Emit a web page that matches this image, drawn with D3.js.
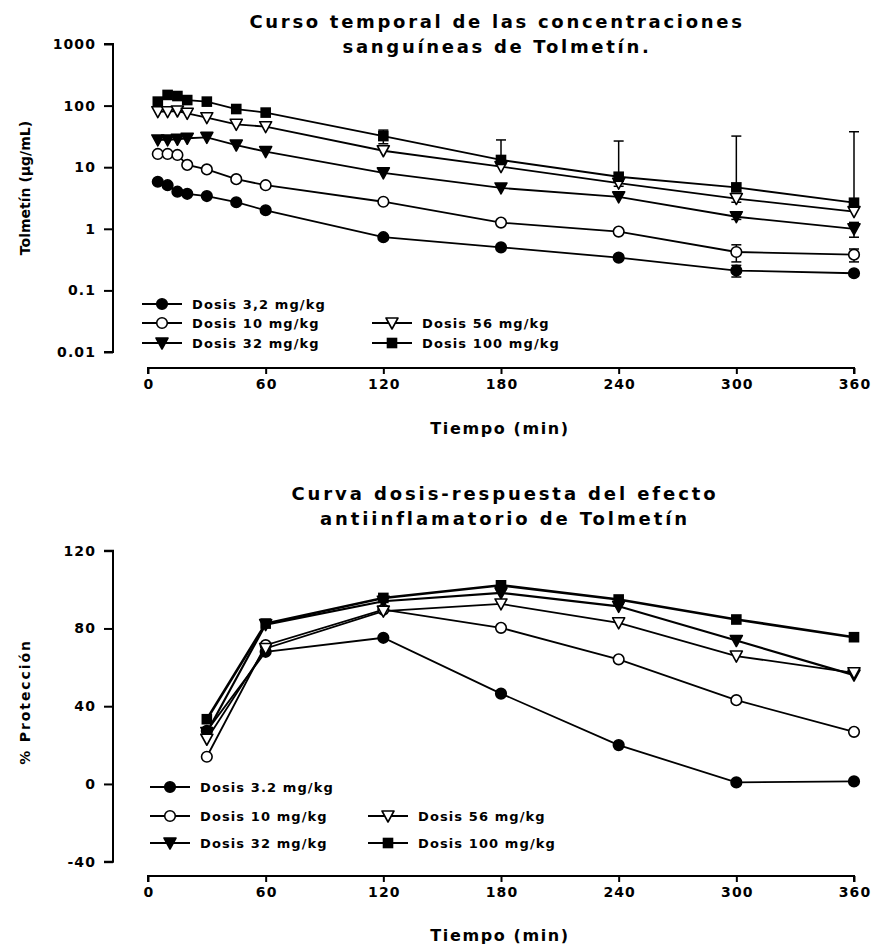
<!DOCTYPE html>
<html><head><meta charset="utf-8">
<script src="https://cdn.jsdelivr.net/npm/d3@7"></script>
<style>
body{margin:0;background:#fff;}
svg text{font-family:"DejaVu Sans",sans-serif;font-weight:bold;fill:#000;}
</style></head>
<body>
<svg id="c" width="872" height="949"></svg>
<script>
// ---------- data ----------
const seriesNamesPK = ["Dosis 3,2 mg/kg","Dosis 10 mg/kg","Dosis 32 mg/kg","Dosis 56 mg/kg","Dosis 100 mg/kg"];
const seriesNamesPD = ["Dosis 3.2 mg/kg","Dosis 10 mg/kg","Dosis 32 mg/kg","Dosis 56 mg/kg","Dosis 100 mg/kg"];
const seriesSymbols = ["circleFill","circleOpen","triFill","triOpen","squareFill"];

const timesPK = [5,10,15,20,30,45,60,120,180,240,300,360];
const pk3  = [5.8,5.1,4.0,3.7,3.4,2.7,2.0,0.73,0.50,0.34,0.21,0.19];
const pk10 = [16.4,16.4,15.8,10.9,9.2,6.4,5.1,2.75,1.26,0.9,0.42,0.38];
const pk32 = [27.7,27.7,28.4,29.5,30.5,22.9,17.9,8.1,4.6,3.3,1.57,1.0];
const pk56 = [79.6,79.6,81.7,75,63.6,49.7,45.4,18.5,10.2,5.5,3.1,1.9];
const pk100= [116,149,143,123,116,88,77,32,13.1,7.0,4.7,2.65];
const se3  = [0,0,0,0,0,0,0,0,0,0,0.045,0.02];
const se10 = [0,0,0,0,0,0,0,0,0,0,0.13,0.09];
const se32 = [0,0,0,0,0,0,0,0,0,0,0.15,0.27];
const se56 = [0,0,0,0,0,0,0,0,0,0.6,0.4,0];
const se100= [0,0,0,0,0,0,0,8,14.6,19.6,27.3,35];
const pkTicks = [0.01,0.1,1,10,100,1000];
const pkTickLabels = ["0.01","0.1","1","10","100","1000"];

const timesPD = [30,60,120,180,240,300,360];
const pd3  = [27.3,68,75.2,46.5,20,0.8,1.3];
const pd10 = [14,71.4,89.7,80.3,64.1,43.1,26.8];
const pd32 = [26.5,82,94,98.3,91.4,73.8,56];
const pd56 = [23,69.7,88.9,92.6,82.9,65.8,57.2];
const pd100= [33.3,82.5,95.7,102.2,94.9,84.6,75.5];
const pdTicks = [-40,0,40,80,120];
const timeTicks = [0,60,120,180,240,300,360];

// ---------- helpers ----------
const svg = d3.select("#c");

function marker(g, sym, x, y){
  if (sym==="circleFill"||sym==="circleOpen"){
    g.append("circle").attr("cx",x).attr("cy",y).attr("r",5.3)
      .attr("fill", sym==="circleFill"?"#000":"#fff").attr("stroke","#000").attr("stroke-width",1.6);
  } else if (sym==="squareFill"){
    g.append("rect").attr("x",x-5.3).attr("y",y-5.3).attr("width",10.6).attr("height",10.6).attr("fill","#000");
  } else {
    const p = d3.path(); p.moveTo(x-6,y-5); p.lineTo(x+6,y-5); p.lineTo(x,y+6); p.closePath();
    g.append("path").attr("d",p.toString())
      .attr("fill", sym==="triFill"?"#000":"#fff").attr("stroke","#000").attr("stroke-width",1.6).attr("stroke-linejoin","round");
  }
}

function drawPanel(cfg){
  const g = svg.append("g");
  const x = d3.scaleLinear().domain([0,360]).range([148,854]);
  const y = cfg.y;
  // x axis
  const xa = g.append("g").attr("transform",`translate(0,${cfg.xAxisY})`)
    .call(d3.axisBottom(x).tickValues(timeTicks).tickSize(6).tickPadding(5).tickFormat(d3.format("d")));
  xa.select(".domain").attr("d",`M148,6V0H854V6`).attr("stroke-width",2);
  xa.selectAll(".tick line").attr("stroke-width",2);
  xa.selectAll(".tick text").style("font-family","DejaVu Sans").style("font-size","14px").style("letter-spacing","1.1px").attr("dx","0.5px");
  // y axis
  const ya = g.append("g").attr("transform",`translate(113,0)`)
    .call(d3.axisLeft(y).tickValues(cfg.ticks).tickSize(9).tickPadding(8).tickFormat((d,i)=>cfg.tickLabels[i]));
  const [r0,r1] = y.range();
  ya.select(".domain").attr("d",`M-9,${r0}H0V${r1}H-9`).attr("stroke-width",2);
  ya.selectAll(".tick line").attr("stroke-width",2);
  ya.selectAll(".tick text").style("font-family","DejaVu Sans").style("font-size","14px").style("letter-spacing","1.1px");
  // titles
  cfg.title.forEach((t,i)=>{
    g.append("text").attr("x",cfg.titleX).attr("y",cfg.titleY+i*25).attr("text-anchor","middle")
      .style("font-size","18px").style("letter-spacing",cfg.titleLS+"px").text(t);
  });
  g.append("text").attr("x",500).attr("y",cfg.xLabelY).attr("text-anchor","middle")
    .style("font-size","16px").style("letter-spacing","1.6px").text("Tiempo (min)");
  g.append("text").attr("transform",`translate(30,${cfg.yLabelCY}) rotate(-90)`).attr("text-anchor","middle")
    .style("font-size","14px").style("letter-spacing",cfg.yLabelLS+"px").text(cfg.yLabel);

  const series = cfg.series;
  const line = d3.line().x(d=>x(d[0])).y(d=>y(d[1]));
  // error bars
  series.forEach(s=>{
    if(!s.se) return;
    s.v.forEach((v,i)=>{
      const e = s.se[i]; if(!e) return;
      const cx = x(cfg.times[i]);
      const top = y(v+e);
      g.append("line").attr("x1",cx).attr("x2",cx).attr("y1",y(v)).attr("y2",top).attr("stroke","#000").attr("stroke-width",1.5);
      g.append("line").attr("x1",cx-5).attr("x2",cx+5).attr("y1",top).attr("y2",top).attr("stroke","#000").attr("stroke-width",1.5);
      if (v-e>0){
        const bot = y(v-e);
        g.append("line").attr("x1",cx).attr("x2",cx).attr("y1",y(v)).attr("y2",bot).attr("stroke","#000").attr("stroke-width",1.5);
        g.append("line").attr("x1",cx-5).attr("x2",cx+5).attr("y1",bot).attr("y2",bot).attr("stroke","#000").attr("stroke-width",1.5);
      }
    });
  });
  series.forEach(s=>{
    g.append("path").attr("d",line(cfg.times.map((t,i)=>[t,s.v[i]])))
      .attr("fill","none").attr("stroke","#000").attr("stroke-width",s.lw||1.8);
  });
  series.forEach(s=>{
    cfg.times.forEach((t,i)=>marker(g,s.sym,x(t),y(s.v[i])));
  });
  // legend
  const L = cfg.legend;
  series.forEach((s,k)=>{
    const pos = L.pos[k];
    const lx = pos[0], ly = pos[1];
    g.append("line").attr("x1",lx).attr("x2",lx+40).attr("y1",ly).attr("y2",ly).attr("stroke","#000").attr("stroke-width",1.8);
    marker(g,s.sym,lx+20,ly);
    g.append("text").attr("x",lx+50).attr("y",ly+5).style("font-size","13px").style("letter-spacing","1.1px").text(s.name);
  });
}

const sym = seriesSymbols;
drawPanel({
  y: d3.scaleLog().domain([0.01,1000]).range([352,44]),
  ticks: pkTicks, tickLabels: pkTickLabels,
  xAxisY: 368, xLabelY: 434,
  title: ["Curso temporal de las concentraciones","sanguíneas de Tolmetín."],
  titleX: 497, titleY: 28, titleLS: 2.7,
  yLabel: "Tolmetín (µg/mL)", yLabelCY: 188, yLabelLS: 0,
  times: timesPK,
  series: [
    {name:seriesNamesPK[0], sym:sym[0], v:pk3,  se:se3},
    {name:seriesNamesPK[1], sym:sym[1], v:pk10, se:se10},
    {name:seriesNamesPK[2], sym:sym[2], v:pk32, se:se32},
    {name:seriesNamesPK[3], sym:sym[3], v:pk56, se:se56},
    {name:seriesNamesPK[4], sym:sym[4], v:pk100,se:se100}
  ],
  legend:{pos:[[142,304],[142,323],[142,343],[372,323],[372,343]]}
});
drawPanel({
  y: d3.scaleLinear().domain([-40,120]).range([861.7,550.7]),
  ticks: pdTicks, tickLabels: pdTicks.map(String),
  xAxisY: 876, xLabelY: 941,
  title: ["Curva dosis-respuesta del efecto","antiinflamatorio de Tolmetín"],
  titleX: 505, titleY: 500, titleLS: 2.9,
  yLabel: "% Protección", yLabelCY: 702, yLabelLS: 1.9,
  times: timesPD,
  series: [
    {name:seriesNamesPD[0], sym:sym[0], v:pd3},
    {name:seriesNamesPD[1], sym:sym[1], v:pd10},
    {name:seriesNamesPD[2], sym:sym[2], v:pd32, lw:2.2},
    {name:seriesNamesPD[3], sym:sym[3], v:pd56},
    {name:seriesNamesPD[4], sym:sym[4], v:pd100, lw:2.6}
  ],
  legend:{pos:[[150,787],[150,816],[150,843],[368,816],[368,843]]}
});
</script>
</body></html>
